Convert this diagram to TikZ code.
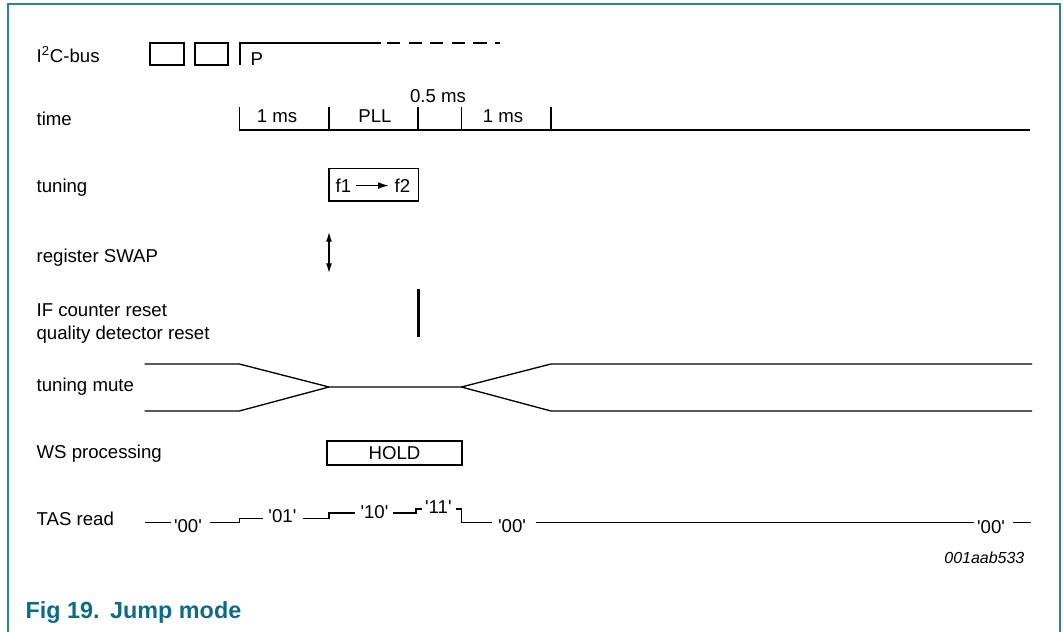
\documentclass[tikz,border=0pt]{standalone}
\usepackage{fontspec}
\setmainfont{Liberation Sans}
\usepackage{tikz}
\usetikzlibrary{arrows.meta}
\usetikzlibrary{fit}
\definecolor{frameteal}{RGB}{38,134,156}
\definecolor{captionteal}{RGB}{12,108,134}

\begin{document}
\begin{tikzpicture}[x=0.02cm, y=-0.02cm, line width=0.7pt,
		font=\fontsize{10.6}{12.5}\selectfont,
		lbl/.style={anchor=base west, inner sep=0pt},
		val/.style={inner sep=0pt},
		sig/.style={line width=0.75pt},
		swaptip/.tip={Latex[length=5.5pt,width=3.4pt]}]
		\useasboundingbox (0,0) rectangle (1063,632);
		\draw[frameteal, line width=1.2pt] (8,632) -- (8,4) -- (1060,4) -- (1060,632);

		% row labels
		\foreach \y/\t [count=\i] in {
				62/I\textsuperscript{2}C-bus,
				125.7/time,
				192.3/tuning,
				262.2/register SWAP,
				316.3/IF counter reset,
				339.7/quality detector reset,
				391.7/tuning mute,
				458/WS processing,
				525.4/TAS read%
		}{
		\node[lbl] (row\i) at (36,\y) {\t};
		}

		% I2C-bus
		\node[draw, fit={(150,43)(184,65)}, inner sep = 0 pt](byteA){};
		\node[draw, fit={(195,43)(228,65)}, inner sep = 0 pt](byteB){};
		\coordinate (stopbot) at (240,65);
		\coordinate (stoptop) at (240,43);
		\coordinate (busend) at (381,43);
		\draw (stopbot) -- (stoptop) -- (busend);
		\draw[dash pattern=on 7.5pt off 4.8pt] (387,43) -- (500,43);
		\node[lbl] (stop) at (250,65) {P};

		% time axis
		\draw[line width=1pt] (239.3,130) -- (1030,130);
		\foreach \x [count=\i] in {239.3,329,418,461.4,551}{
		\coordinate (tick\i) at (\x,130);
		\draw (tick\i) -- (\x,107);
		}
		\foreach \x/\y/\t [count=\i] in {
				277/122/1 ms,
				375/122/PLL,
				438/102/0.5 ms,
				503/122/1 ms%
		}{
		\node[anchor=base, inner sep=0pt] (span\i) at (\x,\y) {\t};
		}

		% tuning
		\node[draw, fit={(329,168.5)(418.4,201)}, inner sep = 0 pt](tunebox){};
		\node[lbl] (f1) at (335,192.3) {f1};
		\node[lbl] (f2) at (394,192.3) {f2};
		\draw[-{Latex[length=6pt,width=3.8pt]}, shorten <=2.3pt, shorten >=3pt] (f1.east) -- (f2.west);

		% register SWAP
		\coordinate (swaptop) at (329,232);
		\coordinate (swapbot) at (329,273);
		\draw[swaptip-swaptip] (swaptop) -- (swapbot);

		% counter reset
		\draw[line width=1.6pt] (418.4,289) -- (418.4,337);

		% tuning mute
		\draw[sig] (144.6,364) -- (239.3,364) -- (329,387) -- (461.4,387) -- (551,364) -- (1032,364);
		\draw[sig] (144.6,411) -- (239.3,411) -- (329,387);
		\draw[sig] (461.4,387) -- (551,411) -- (1032,411);

		% WS processing
		\node[draw, fit={(327,441)(462,465)}, inner sep = 0 pt, label = center: HOLD](hold){};

		% TAS read
		\foreach \x/\y/\v [count=\i] in {
				188/526/00,
				282.4/516/01,
				374.5/512/10,
				438.4/507/11,
				512/526/00,
				991/526.6/00%
		}{
		\node[val] (tas\i) at (\x,\y) {\textquotesingle\v\textquotesingle};
		}
		\draw[sig] (144.6,522.6) -- (171,522.6);
		\draw[sig] (210,522.6) -- (239.3,522.6) -- (239.3,518.5) -- (263.4,518.5);
		\draw[sig] (303,518.5) -- (329,518.5) -- (329,513) -- (354.7,513);
		\draw[sig] (392.6,513) -- (416,513) -- (416,508.9) -- (421.8,508.9);
		\draw[sig] (456.3,508.9) -- (461.4,508.9) -- (461.4,522.6) -- (492.4,522.6);
		\draw[sig] (535.6,522.8) -- (973.6,522.8);
		\draw[sig] (1013.4,522.8) -- (1030.7,522.8);

		\node[anchor=east, inner sep=0pt, font=\itshape\fontsize{9.1}{11}\selectfont] (tag) at (1025,557.7) {001aab533};
		\node[anchor=base west, inner sep=0pt, text=captionteal, font=\bfseries\fontsize{13.3}{16}\selectfont] (caption) at (25,618) {Fig 19.\hspace{0.45em}Jump mode};
\end{tikzpicture}
\end{document}
